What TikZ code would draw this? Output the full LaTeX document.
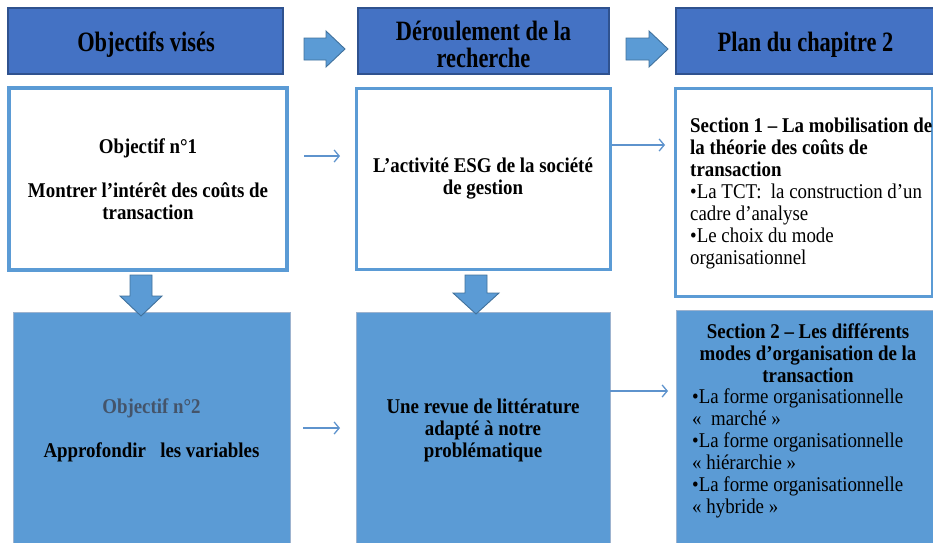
\documentclass[tikz,border=0pt]{standalone}
\usepackage{fontspec}
\setmainfont{Liberation Serif}[FakeStretch=0.9]
\newfontfamily\hdrfont{Liberation Serif}[FakeStretch=0.8]
\usetikzlibrary{arrows.meta}
\definecolor{hdrfill}{HTML}{4472C4}
\definecolor{hdrborder}{HTML}{2F528F}
\definecolor{lblue}{HTML}{5B9BD5}
\definecolor{connc}{HTML}{5E93CD}
\definecolor{barrowborder}{HTML}{41719C}
\definecolor{gborder}{HTML}{9DB3CF}
\definecolor{txtgray}{HTML}{44546A}
\begin{document}
\begin{tikzpicture}[x=1pt,y=-1pt,
  hdrbox/.style={draw=hdrborder, line width=1.5pt, fill=hdrfill, inner sep=0pt, outer sep=0pt},
  hdrtxt/.style={inner sep=0pt, font=\hdrfont\bfseries\fontsize{28}{27}\selectfont, align=center},
  wbox/.style={draw=lblue, fill=white, inner sep=0pt, outer sep=0pt,
    font=\bfseries\fontsize{21}{22}\selectfont, align=center},
  bbox/.style={draw=gborder, line width=0.8pt, fill=lblue, inner sep=0pt, outer sep=0pt,
    font=\bfseries\fontsize{21}{22}\selectfont, align=center},
  sectxt/.style={inner sep=0pt, font=\fontsize{21}{22}\selectfont, align=left},
  conn/.style={draw=connc, line width=1.3pt, -{Straight Barb[length=5pt,width=12pt]}},
  blockarrow/.style={fill=lblue, draw=barrowborder, line width=0.9pt}]
\useasboundingbox (0,0) rectangle (933,542);
\clip (0,0) rectangle (933,542);

% header row
\node[hdrbox, minimum width=275pt, minimum height=66pt] (h1) at (145.5,41) {};
\node[hdrtxt] (h1t) at (146,45) {Objectifs visés};
\node[hdrbox, minimum width=251pt, minimum height=66pt] (h2) at (483.5,41) {};
\node[hdrtxt] (h2t) at (483.5,44) {Déroulement de la\\recherche};
\node[hdrbox, minimum width=259pt, minimum height=66pt] (h3) at (805.5,41) {};
\node[hdrtxt] (h3t) at (805.5,45) {Plan du chapitre 2};

\draw[blockarrow] (304,38) -- (326,38) -- (326,31) -- (345,49) -- (326,67) -- (326,60) -- (304,60) -- cycle;
\draw[blockarrow] (626,38) -- (649,38) -- (649,31) -- (668,49) -- (649,67) -- (649,60) -- (626,60) -- cycle;

% second row
\node[wbox, line width=4pt, minimum width=278pt, minimum height=182pt] (A) at (148,179)
  {Objectif n°1\\ \\Montrer l’intérêt des coûts de\\transaction};
\node[wbox, line width=3pt, minimum width=254pt, minimum height=181pt] (B) at (483,178.5)
  {L’activité ESG de la société\\de gestion};
\node[wbox, line width=3pt, minimum width=257pt, minimum height=208pt] (C) at (803.5,192) {};
\node[sectxt, anchor=west] (Ct) at (690,193)
  {\textbf{Section 1 – La mobilisation de}\\\textbf{la théorie des coûts de}\\\textbf{transaction}\\•La TCT:\ \ la construction d’un\\cadre d’analyse\\•Le choix du mode\\organisationnel};

% third row
\node[bbox, minimum width=277pt, minimum height=236pt] (D) at (151.5,430)
  {\textcolor{txtgray}{Objectif n°2}\\ \\Approfondir\ \ \ les variables};
\node[bbox, minimum width=254pt, minimum height=236pt] (E) at (483,430)
  {Une revue de littérature\\adapté à notre\\problématique};
\node[bbox, minimum width=260pt, minimum height=238pt] (F) at (806,429) {};
\node[inner sep=0pt, font=\bfseries\fontsize{21}{22}\selectfont, align=center] (Ft) at (808,353)
  {Section 2 – Les différents\\modes d’organisation\ de la\\transaction};
\node[sectxt, anchor=west] (Fb) at (692,453)
  {•La forme organisationnelle\\«\ \ marché »\\•La forme organisationnelle\\« hiérarchie »\\•La forme organisationnelle\\« hybride\ »};

% down block arrows
\draw[blockarrow] (130,275) -- (152,275) -- (152,296) -- (162,296) -- (141,316) -- (120,296) -- (130,296) -- cycle;
\draw[blockarrow] (465,275) -- (487,275) -- (487,293) -- (499,293) -- (476,314) -- (453,293) -- (465,293) -- cycle;

% thin connectors
\coordinate (ab) at (0,156);
\coordinate (bc) at (0,145);
\coordinate (de) at (0,428);
\coordinate (ef) at (0,391);
\draw[conn, shorten <=17pt, shorten >=16pt] (A.east |- ab) -- (B.west |- ab);
\draw[conn, shorten <=2pt, shorten >=10pt] (B.east |- bc) -- (C.west |- bc);
\draw[conn, shorten <=13pt, shorten >=16pt] (D.east |- de) -- (E.west |- de);
\draw[conn, shorten <=0pt, shorten >=8pt] (E.east |- ef) -- (F.west |- ef);
\end{tikzpicture}
\end{document}
